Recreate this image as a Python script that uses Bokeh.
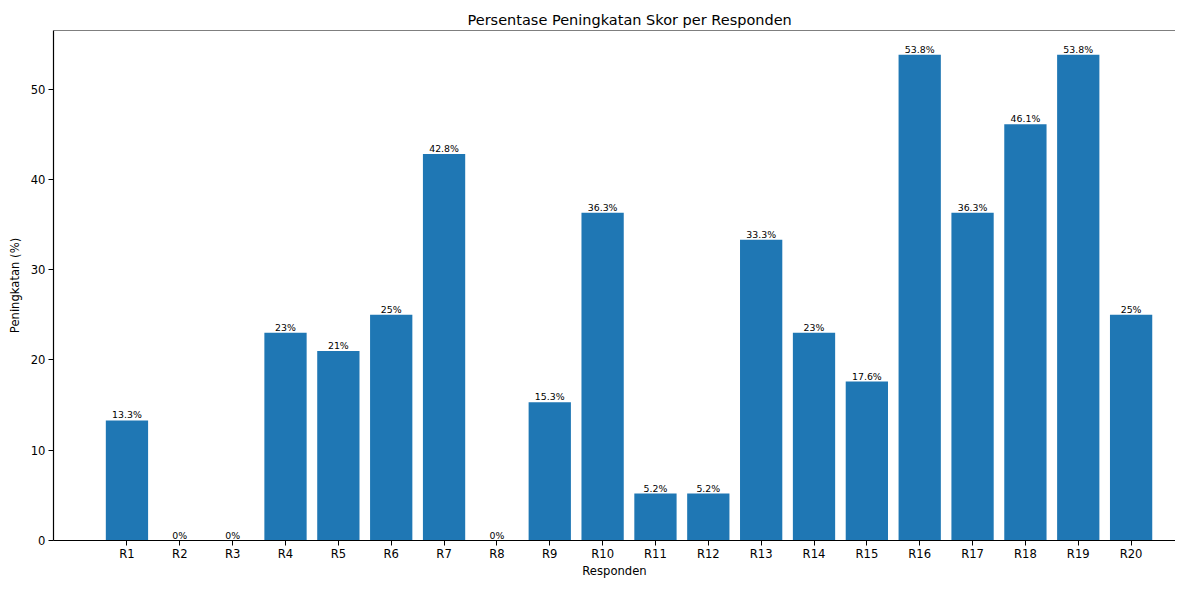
from bokeh.plotting import figure
from bokeh.models import Range1d, FixedTicker, Span, ColumnDataSource
from bokeh.core.properties import value
from bokeh.embed import file_html
from bokeh.resources import INLINE

categories = ["R1", "R2", "R3", "R4", "R5", "R6", "R7", "R8", "R9", "R10",
              "R11", "R12", "R13", "R14", "R15", "R16", "R17", "R18", "R19", "R20"]
values = [13.3, 0, 0, 23, 21, 25, 42.8, 0, 15.3, 36.3,
          5.2, 5.2, 33.3, 23, 17.6, 53.8, 36.3, 46.1, 53.8, 25]
y_ticks = [0, 10, 20, 30, 40, 50]

FONT = "DejaVu Sans"
idx = list(range(len(categories)))
labels = [f"{v:g}%" for v in values]
src = ColumnDataSource(dict(x=idx, top=values, label=labels))

ymax = max(values) * 1.05
p = figure(width=1175, height=580, output_backend="svg", toolbar_location=None,
           x_range=Range1d(-1.39, 19.84), y_range=Range1d(0, ymax),
           min_border_left=53, min_border_right=0, min_border_top=30, min_border_bottom=34)
p.title.text = "Persentase Peningkatan Skor per Responden"
p.title.align = "left"
p.title.offset = 414
p.title.text_font = FONT
p.title.text_font_size = "14.5px"
p.title.text_font_style = "normal"
p.title.text_color = "black"
p.title.standoff = 5

p.vbar(x="x", top="top", width=0.8, source=src, fill_color="#1f77b4", line_color=None)
p.text(x="x", y="top", text="label", source=src, text_align="center", text_baseline="bottom",
       text_font=value(FONT), text_font_size="9.4px", text_color="black")

p.xgrid.visible = False
p.ygrid.visible = False
p.outline_line_color = None
p.add_layout(Span(location=ymax, dimension="width", line_color="black", line_width=1.2))

p.xaxis.ticker = FixedTicker(ticks=idx)
p.xaxis.major_label_overrides = {i: c for i, c in zip(idx, categories)}
p.yaxis.ticker = FixedTicker(ticks=y_ticks)
p.xaxis.axis_label = "Responden"
p.yaxis.axis_label = "Peningkatan (%)"
for ax in (p.xaxis, p.yaxis):
    ax.axis_label_text_font = FONT
    ax.axis_label_text_font_size = "11.6px"
    ax.axis_label_text_font_style = "normal"
    ax.axis_label_text_color = "black"
    ax.major_label_text_font = FONT
    ax.major_label_text_font_size = "11.6px"
    ax.major_label_text_color = "black"
    ax.minor_tick_line_color = None
    ax.major_tick_out = 5
    ax.major_tick_in = 0
    ax.major_tick_line_color = "black"
    ax.axis_line_color = "black"
    ax.axis_line_width = 1.2
p.xaxis.major_label_standoff = 1
p.xaxis.axis_label_standoff = 0
p.yaxis.major_label_standoff = 3
p.yaxis.axis_label_standoff = 6

open("out.html", "w").write(file_html(p, INLINE))
